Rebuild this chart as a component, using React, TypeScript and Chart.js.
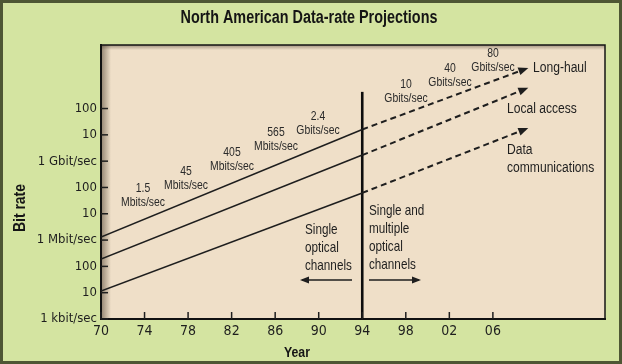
import React, { useEffect, useRef } from 'react';
import { Chart, registerables } from 'chart.js';
Chart.register(...registerables);

// ---- data ----
const years = [70, 94, 109];
const longHaul = [1.3e6, 1.6e10, 3.2e12];
const localAccess = [1.9e5, 1.7e9, 5.6e11];
const dataComm = [1.15e4, 6.2e7, 1.65e10];
const boundaryYear = 94;
const boundaryRange = [1e3, 4.3e11];
const xTickYears = [70, 74, 78, 82, 86, 90, 94, 98, 102, 106];
const yTickValues = [1e3, 1e4, 1e5, 1e6, 1e7, 1e8, 1e9, 1e10, 1e11];
const yTickLabels = ['1 kbit/sec', '10', '100', '1 Mbit/sec', '10', '100', '1 Gbit/sec', '10', '100'];
const rateLabels = [
  ['1.5', 'Mbits/sec'],
  ['45', 'Mbits/sec'],
  ['405', 'Mbits/sec'],
  ['565', 'Mbits/sec'],
  ['2.4', 'Gbits/sec'],
  ['10', 'Gbits/sec'],
  ['40', 'Gbits/sec'],
  ['80', 'Gbits/sec'],
];
const seriesNames = [['Long-haul'], ['Local access'], ['Data', 'communications']];
const regionNotes = [
  ['Single', 'optical', 'channels'],
  ['Single and', 'multiple', 'optical', 'channels'],
];

// ---- layout (pixel placement of annotation text) ----
const rateLabelPos = [
  [143, 188], [186, 171], [232, 152], [276, 132], [318, 116], [406, 84], [450, 68], [493, 53],
];
const seriesNamePos = [[533, 68], [507, 109], [507, 150]];
const regionNotePos = [[305, 230], [369, 211]];

const SANS = '"Liberation Sans", Arial, sans-serif';
const COND = '"DejaVu Sans Condensed", "Liberation Sans", sans-serif';
const INK = '#1e1e1e';

const pair = (xs: number[], ys: number[]) => xs.map((x, i) => ({ x, y: ys[i] }));

export default function App() {
  const ref = useRef<HTMLCanvasElement | null>(null);
  useEffect(() => {
    document.body.style.margin = '0';
    const canvas = ref.current!;
    const solid = (d: number[]) => pair(years.slice(0, 2), d.slice(0, 2));
    const dashed = (d: number[]) => pair(years.slice(1), d.slice(1));
    const lineBase = { borderColor: INK, pointRadius: 0, tension: 0, fill: false };

    const narrowText = (ctx: any, t: string, x: number, y: number, font: string, align: string, sx = 0.8) => {
      ctx.save();
      ctx.translate(x, y);
      ctx.scale(sx, 1);
      ctx.font = font;
      ctx.textAlign = align;
      ctx.textBaseline = 'middle';
      ctx.fillText(t, 0, 0);
      ctx.restore();
    };

    const decorPlugin = {
      id: 'decor',
      beforeDraw(chart: any) {
        const { ctx, width, height, chartArea: a } = chart;
        ctx.save();
        ctx.fillStyle = '#d4e4a1';
        ctx.fillRect(0, 0, width, height);
        ctx.strokeStyle = '#4e5634';
        ctx.lineWidth = 3;
        ctx.strokeRect(1.5, 1.5, width - 3, height - 3);
        ctx.fillStyle = '#efdfc8';
        ctx.fillRect(a.left, a.top, a.right - a.left, a.bottom - a.top);
        let g = ctx.createLinearGradient(a.left, 0, a.left + 10, 0);
        g.addColorStop(0, 'rgba(70,55,40,0.55)');
        g.addColorStop(1, 'rgba(70,55,40,0)');
        ctx.fillStyle = g;
        ctx.fillRect(a.left, a.top, 10, a.bottom - a.top);
        g = ctx.createLinearGradient(0, a.top, 0, a.top + 5);
        g.addColorStop(0, 'rgba(70,55,40,0.45)');
        g.addColorStop(1, 'rgba(70,55,40,0)');
        ctx.fillStyle = g;
        ctx.fillRect(a.left, a.top, a.right - a.left, 5);
        ctx.strokeStyle = '#151515';
        ctx.lineWidth = 1.5;
        ctx.strokeRect(a.left, a.top, a.right - a.left, a.bottom - a.top);
        ctx.restore();
      },
      afterDraw(chart: any) {
        const { ctx, chartArea: a, scales } = chart;
        ctx.save();
        // inward tick marks
        ctx.strokeStyle = INK;
        ctx.lineWidth = 1.5;
        xTickYears.forEach((v) => {
          const x = scales.x.getPixelForValue(v);
          ctx.beginPath();
          ctx.moveTo(x, a.bottom);
          ctx.lineTo(x, a.bottom - 7);
          ctx.stroke();
        });
        yTickValues.forEach((v) => {
          const y = scales.y.getPixelForValue(v);
          ctx.beginPath();
          ctx.moveTo(a.left, y);
          ctx.lineTo(a.left + 7, y);
          ctx.stroke();
        });
        // arrowheads on projections
        [3, 4, 5].forEach((i) => {
          const pts = chart.getDatasetMeta(i).data;
          const p0 = pts[0], p1 = pts[pts.length - 1];
          const ang = Math.atan2(p1.y - p0.y, p1.x - p0.x);
          const dx = Math.cos(ang), dy = Math.sin(ang);
          const tx = p1.x + dx * 3, ty = p1.y + dy * 3;
          ctx.fillStyle = INK;
          ctx.beginPath();
          ctx.moveTo(tx, ty);
          ctx.lineTo(tx - dx * 10 - dy * 4, ty - dy * 10 + dx * 4);
          ctx.lineTo(tx - dx * 10 + dy * 4, ty - dy * 10 - dx * 4);
          ctx.closePath();
          ctx.fill();
        });
        // title
        ctx.fillStyle = '#151515';
        narrowText(ctx, 'North American Data-rate Projections', 309, 18, `bold 18px ${SANS}`, 'center', 0.8);
        // axis titles
        narrowText(ctx, 'Year', 297, 353, `bold 15px ${SANS}`, 'center', 0.82);
        ctx.save();
        ctx.translate(20, 208);
        ctx.rotate(-Math.PI / 2);
        narrowText(ctx, 'Bit rate', 0, 0, `bold 17px ${SANS}`, 'center', 0.82);
        ctx.restore();
        // rate labels
        ctx.fillStyle = '#2a2a2a';
        rateLabels.forEach((lines, i) => {
          const [x, y] = rateLabelPos[i];
          lines.forEach((t, j) => narrowText(ctx, t, x, y + j * 14, `13px ${SANS}`, 'center', 0.8));
        });
        // series names
        ctx.fillStyle = INK;
        seriesNames.forEach((lines, i) => {
          const [x, y] = seriesNamePos[i];
          lines.forEach((t, j) => narrowText(ctx, t, x, y + j * 18, `15.5px ${SANS}`, 'left', 0.78));
        });
        // region notes
        regionNotes.forEach((lines, i) => {
          const [x, y] = regionNotePos[i];
          lines.forEach((t, j) => narrowText(ctx, t, x, y + j * 18, `15px ${SANS}`, 'left', 0.78));
        });
        // region arrows
        const arrow = (x0: number, x1: number, y: number) => {
          ctx.strokeStyle = INK;
          ctx.lineWidth = 1.5;
          ctx.beginPath();
          ctx.moveTo(x0, y);
          ctx.lineTo(x1, y);
          ctx.stroke();
          const d = Math.sign(x1 - x0);
          ctx.beginPath();
          ctx.moveTo(x1 + d * 2, y);
          ctx.lineTo(x1 - d * 7, y - 3.5);
          ctx.lineTo(x1 - d * 7, y + 3.5);
          ctx.closePath();
          ctx.fill();
        };
        arrow(352, 302, 280);
        arrow(369, 419, 280);
        ctx.restore();
      },
    };

    const chart = new Chart(canvas, {
      type: 'line',
      data: {
        datasets: [
          { ...lineBase, data: solid(longHaul), borderWidth: 1.6 },
          { ...lineBase, data: solid(localAccess), borderWidth: 1.6 },
          { ...lineBase, data: solid(dataComm), borderWidth: 1.6 },
          { ...lineBase, data: dashed(longHaul), borderWidth: 2, borderDash: [6, 4] },
          { ...lineBase, data: dashed(localAccess), borderWidth: 2, borderDash: [6, 4] },
          { ...lineBase, data: dashed(dataComm), borderWidth: 2, borderDash: [6, 4] },
          {
            ...lineBase,
            data: boundaryRange.map((y) => ({ x: boundaryYear, y })),
            borderWidth: 2.6,
            borderColor: '#0d0d0d',
          },
        ] as any,
      },
      options: {
        responsive: false,
        animation: false,
        events: [],
        layout: { padding: { left: 0, top: 45, right: 17, bottom: 0 } },
        plugins: { legend: { display: false }, tooltip: { enabled: false }, title: { display: false } },
        scales: {
          x: {
            type: 'linear',
            min: 70,
            max: 116.3,
            afterBuildTicks: (s: any) => {
              s.ticks = xTickYears.map((value) => ({ value }));
            },
            afterFit: (s: any) => {
              s.height = 45;
            },
            grid: { display: false, drawTicks: false },
            border: { display: true, color: '#111', width: 2 },
            ticks: {
              color: INK,
              padding: 4,
              maxRotation: 0,
              autoSkip: false,
              font: { family: COND, size: 14 },
              callback: (v: any) => String(Number(v) % 100).padStart(2, '0'),
            },
          },
          y: {
            type: 'logarithmic',
            min: 1e3,
            max: 2.6e13,
            afterBuildTicks: (s: any) => {
              s.ticks = yTickValues.map((value) => ({ value }));
            },
            afterFit: (s: any) => {
              s.width = 101;
            },
            grid: { display: false, drawTicks: false },
            border: { display: true, color: '#111', width: 2 },
            ticks: {
              color: INK,
              padding: 4,
              autoSkip: false,
              font: { family: COND, size: 13 },
              callback: (_v: any, i: number) => yTickLabels[i],
            },
          },
        },
      } as any,
      plugins: [decorPlugin],
    });
    return () => chart.destroy();
  }, []);
  return <canvas ref={ref} width={622} height={364} style={{ display: 'block' }} />;
}
